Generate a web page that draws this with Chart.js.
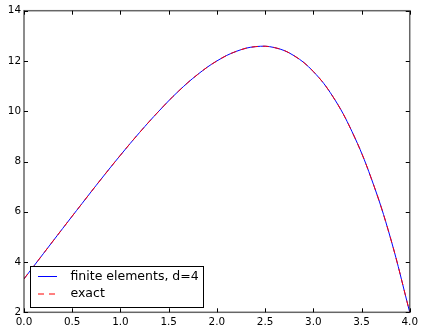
<!DOCTYPE html>
<html><head><meta charset="utf-8">
<script src="https://cdn.jsdelivr.net/npm/chart.js@4/dist/chart.umd.min.js"></script>
<style>html,body{margin:0;padding:0;background:#fff;}canvas{display:block;}</style>
</head><body>
<canvas id="c" width="422" height="333"></canvas>
<script>
const xValues = [0.0, 0.2, 0.4, 0.6, 0.8, 1.0, 1.2, 1.4, 1.6, 1.8, 2.0, 2.2, 2.4, 2.6, 2.8, 3.0, 3.2, 3.4, 3.6, 3.8, 4.0];
const feValues = [3.33, 4.33, 5.33, 6.32, 7.30, 8.25, 9.16, 10.01, 10.79, 11.46, 12.00, 12.38, 12.57, 12.53, 12.21, 11.58, 10.60, 9.20, 7.34, 4.96, 2.00];
const exactValues = [3.33, 4.33, 5.33, 6.32, 7.30, 8.25, 9.16, 10.01, 10.79, 11.46, 12.00, 12.38, 12.57, 12.53, 12.21, 11.58, 10.60, 9.20, 7.34, 4.96, 2.00];
const xTicks = [0.0, 0.5, 1.0, 1.5, 2.0, 2.5, 3.0, 3.5, 4.0];
const yTicks = [2, 4, 6, 8, 10, 12, 14];
const seriesLabels = ['finite elements, d=4', 'exact'];

const FONT = 'DejaVu Sans';

const framePlugin = {
  id: 'frame',
  afterDatasetsDraw(chart) {
    const ctx = chart.ctx;
    const a = chart.chartArea;
    const xs = chart.scales.x, ys = chart.scales.y;
    ctx.save();
    ctx.strokeStyle = '#000';
    ctx.lineWidth = 1;
    ctx.beginPath();
    xTicks.forEach(v => {
      const px = Math.round(xs.getPixelForValue(v)) + 0.5;
      ctx.moveTo(px, a.bottom); ctx.lineTo(px, a.bottom - 4);
      ctx.moveTo(px, a.top); ctx.lineTo(px, a.top + 4);
    });
    yTicks.forEach(v => {
      const py = Math.round(ys.getPixelForValue(v)) + 0.5;
      ctx.moveTo(a.left, py); ctx.lineTo(a.left + 4, py);
      ctx.moveTo(a.right, py); ctx.lineTo(a.right - 4, py);
    });
    ctx.stroke();
    ctx.strokeStyle = 'rgba(0,0,0,0.6)';
    ctx.lineWidth = 1.5;
    ctx.strokeRect(a.left, a.top, a.right - a.left, a.bottom - a.top);
    const bx = 30, by = 266, bw = 173, bh = 41;
    ctx.fillStyle = '#fff';
    ctx.fillRect(bx, by, bw, bh);
    ctx.strokeStyle = '#000';
    ctx.lineWidth = 1;
    ctx.strokeRect(bx + 0.5, by + 0.5, bw, bh);
    const rows = [276.5, 294];
    chart.data.datasets.forEach((ds, i) => {
      const ry = rows[i];
      ctx.strokeStyle = ds.borderColor;
      ctx.lineWidth = ds.borderWidth;
      ctx.setLineDash(ds.borderDash || []);
      ctx.beginPath();
      ctx.moveTo(38, ry); ctx.lineTo(57, ry);
      ctx.stroke();
      ctx.setLineDash([]);
      ctx.fillStyle = '#000';
      ctx.font = '12.5px "' + FONT + '"';
      ctx.textBaseline = 'middle';
      ctx.textAlign = 'left';
      ctx.fillText(ds.label, 70.5, ry);
    });
    ctx.restore();
  }
};

const toPts = (vals) => xValues.map((x, i) => ({x: x, y: vals[i]}));

new Chart(document.getElementById('c'), {
  type: 'line',
  data: {
    datasets: [
      {label: seriesLabels[0], data: toPts(feValues), borderColor: '#0000ff', borderWidth: 1,
       pointRadius: 0, tension: 0.4, fill: false, order: 1},
      {label: seriesLabels[1], data: toPts(exactValues), borderColor: '#ff0000', borderWidth: 1,
       borderDash: [6, 5], pointRadius: 0, tension: 0.4, fill: false, order: 0}
    ]
  },
  options: {
    responsive: false,
    animation: false,
    devicePixelRatio: 1,
    layout: {padding: {top: 10.7, right: 8.7, left: 0, bottom: 0}},
    plugins: {legend: {display: false}, tooltip: {enabled: false}},
    scales: {
      x: {
        type: 'linear', min: 0, max: 4,
        afterBuildTicks: s => { s.ticks = xTicks.map(v => ({value: v})); },
        ticks: {callback: v => Number(v).toFixed(1), font: {family: FONT, size: 10.4}, color: '#000',
                padding: 4, maxRotation: 0, autoSkip: false},
        grid: {display: false, drawTicks: false},
        border: {display: false},
        afterFit: s => { s.height = 20.7; }
      },
      y: {
        type: 'linear', min: 2, max: 14,
        afterBuildTicks: s => { s.ticks = yTicks.map(v => ({value: v})); },
        ticks: {callback: v => String(v), font: {family: FONT, size: 10.4}, color: '#000',
                padding: 3, autoSkip: false},
        grid: {display: false, drawTicks: false},
        border: {display: false},
        afterFit: s => { s.width = 24; }
      }
    }
  },
  plugins: [framePlugin]
});
</script>
</body></html>
